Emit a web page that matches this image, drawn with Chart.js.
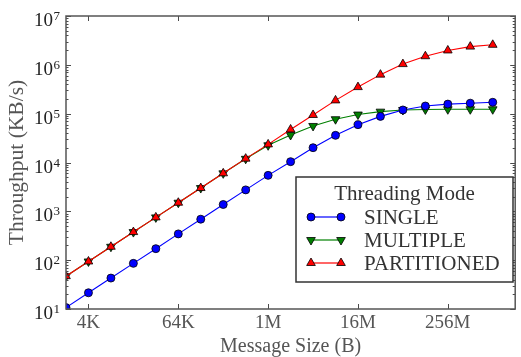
<!DOCTYPE html>
<html>
<head>
<meta charset="utf-8">
<script src="https://cdn.jsdelivr.net/npm/chart.js@4"></script>
<style>
  html, body { margin: 0; padding: 0; background: #fff; }
  canvas { display: block; }
</style>
</head>
<body>
<canvas id="chart" width="521" height="357"></canvas>
<script>
// message sizes in bytes, 2K .. 1G
const messageSizes = [2048, 4096, 8192, 16384, 32768, 65536, 131072, 262144, 524288, 1048576,
  2097152, 4194304, 8388608, 16777216, 33554432, 67108864, 134217728, 268435456, 536870912, 1073741824];

// throughput in KB/s per threading mode
const singleKBs = [10.7, 21.5, 43, 86, 172, 345, 690, 1380, 2750, 5450,
  10400, 20100, 36000, 59500, 88000, 119000, 143500, 157000, 164000, 171000];
const multipleKBs = [47, 94, 188, 376, 752, 1500, 3000, 6000, 11900, 22500,
  36600, 56000, 77000, 96000, 110000, 119000, 122000, 123000, 123000, 123000];
const partitionedKBs = [47, 94, 188, 376, 752, 1500, 3000, 6000, 12000, 23500,
  47500, 94000, 187000, 350000, 630000, 1035000, 1500000, 1970000, 2360000, 2570000];

const xTickSizes = [4096, 65536, 1048576, 16777216, 268435456];
const xTickLabels = ['4K', '64K', '1M', '16M', '256M'];
const yTickPowers = [1, 2, 3, 4, 5, 6, 7];

const SERIF = '"Liberation Serif", "DejaVu Serif", serif';

const series = [
  { label: 'SINGLE', data: singleKBs, color: '#0000ff', style: 'circle', rotation: 0, radius: 4, order: 2 },
  { label: 'MULTIPLE', data: multipleKBs, color: '#008000', style: 'triangle', rotation: 180, radius: 5, order: 3 },
  { label: 'PARTITIONED', data: partitionedKBs, color: '#ff0000', style: 'triangle', rotation: 0, radius: 5, order: 1 }
];

const datasets = series.map(s => ({
  label: s.label,
  data: messageSizes.map((x, i) => ({ x: x, y: s.data[i] })),
  borderColor: s.color,
  borderWidth: 1.1,
  backgroundColor: s.color,
  pointStyle: s.style,
  pointRotation: s.rotation,
  pointRadius: s.radius,
  pointBackgroundColor: s.color,
  pointBorderColor: '#000',
  pointBorderWidth: 0.8,
  tension: 0,
  order: s.order
}));

// frame, inward ticks and 10^n labels
const axesFrame = {
  id: 'axesFrame',
  afterDatasetsDraw(chart) {
    const { ctx, chartArea: a, scales: { x, y } } = chart;
    ctx.save();
    ctx.strokeStyle = '#4a4a4a';
    ctx.lineWidth = 1;
    ctx.beginPath();
    const tick = (px, py, dx, dy) => { ctx.moveTo(px, py); ctx.lineTo(px + dx, py + dy); };
    xTickSizes.forEach(v => {
      const px = Math.round(x.getPixelForValue(v)) + 0.5;
      tick(px, a.bottom, 0, -5);
      tick(px, a.top, 0, 5);
    });
    yTickPowers.forEach(p => {
      const py = Math.round(y.getPixelForValue(Math.pow(10, p))) + 0.5;
      tick(a.left, py, 5, 0);
      tick(a.right, py, -5, 0);
      if (p < 7) {
        for (let m = 2; m <= 9; m++) {
          const my = Math.round(y.getPixelForValue(m * Math.pow(10, p))) + 0.5;
          tick(a.left, my, 2.5, 0);
          tick(a.right, my, -2.5, 0);
        }
      }
    });
    ctx.stroke();

    ctx.lineWidth = 1.5;
    ctx.strokeStyle = '#555';
    ctx.strokeRect(a.left, a.top, a.right - a.left, a.bottom - a.top);

    // y tick labels with superscript exponents
    ctx.fillStyle = '#222';
    ctx.textBaseline = 'alphabetic';
    yTickPowers.forEach(p => {
      const py = y.getPixelForValue(Math.pow(10, p));
      const exp = String(p);
      ctx.font = '13px ' + SERIF;
      const ew = ctx.measureText(exp).width;
      const right = a.left - 6;
      ctx.textAlign = 'left';
      ctx.fillText(exp, right - ew, py + 4);
      ctx.font = '19px ' + SERIF;
      ctx.textAlign = 'right';
      ctx.fillText('10', right - ew - 0.5, py + 10);
    });
    ctx.restore();
  }
};

// boxed legend with title and line+marker samples
const modeLegend = {
  id: 'modeLegend',
  afterDraw(chart) {
    const ctx = chart.ctx;
    const box = { left: 296, top: 177, right: 513, bottom: 282 };
    ctx.save();
    ctx.fillStyle = '#fff';
    ctx.fillRect(box.left, box.top, box.right - box.left, box.bottom - box.top);
    ctx.strokeStyle = '#333';
    ctx.lineWidth = 1.5;
    ctx.strokeRect(box.left, box.top, box.right - box.left, box.bottom - box.top);

    ctx.fillStyle = '#333';
    ctx.font = '21px ' + SERIF;
    ctx.textBaseline = 'middle';
    ctx.textAlign = 'center';
    ctx.fillText('Threading Mode', (box.left + box.right) / 2, 194);

    const rows = [217, 240, 263];
    series.forEach((s, i) => {
      const ry = rows[i];
      ctx.strokeStyle = s.color;
      ctx.lineWidth = 1.2;
      ctx.beginPath();
      ctx.moveTo(311, ry);
      ctx.lineTo(341, ry);
      ctx.stroke();
      [311, 341].forEach(mx => {
        ctx.fillStyle = s.color;
        ctx.strokeStyle = '#000';
        ctx.lineWidth = 0.8;
        Chart.helpers.drawPoint(ctx, {
          pointStyle: s.style, rotation: s.rotation, radius: s.radius, borderWidth: 0.8
        }, mx, ry);
      });
      ctx.fillStyle = '#333';
      ctx.textAlign = 'left';
      ctx.font = '21px ' + SERIF;
      ctx.fillText(s.label, 364, ry + 1);
    });
    ctx.restore();
  }
};

new Chart(document.getElementById('chart'), {
  type: 'line',
  data: { datasets: datasets },
  plugins: [axesFrame, modeLegend],
  options: {
    responsive: false,
    animation: false,
    layout: { padding: { top: 16, right: 1, left: 0, bottom: 0 } },
    plugins: { legend: { display: false }, tooltip: { enabled: false } },
    scales: {
      x: {
        type: 'logarithmic',
        min: 2048,
        max: 2147483648,
        afterFit: s => { s.height = 48; },
        afterBuildTicks: s => { s.ticks = xTickSizes.map(v => ({ value: v })); },
        grid: { display: false, drawTicks: false },
        border: { display: false },
        ticks: {
          autoSkip: false,
          maxRotation: 0,
          padding: 3,
          color: '#555',
          font: { family: SERIF, size: 19 },
          callback: v => xTickLabels[xTickSizes.indexOf(v)]
        },
        title: {
          display: true,
          text: 'Message Size (B)',
          color: '#555',
          font: { family: SERIF, size: 20 },
          padding: { top: 0, bottom: -2 }
        }
      },
      y: {
        type: 'logarithmic',
        min: 10,
        max: 10000000,
        afterFit: s => { s.width = 66; },
        grid: { display: false, drawTicks: false },
        border: { display: false },
        ticks: { display: false },
        title: {
          display: true,
          text: 'Throughput (KB/s)',
          color: '#555',
          font: { family: SERIF, size: 21.5 },
          padding: { top: 4, bottom: 0 }
        }
      }
    }
  }
});
</script>
</body>
</html>
